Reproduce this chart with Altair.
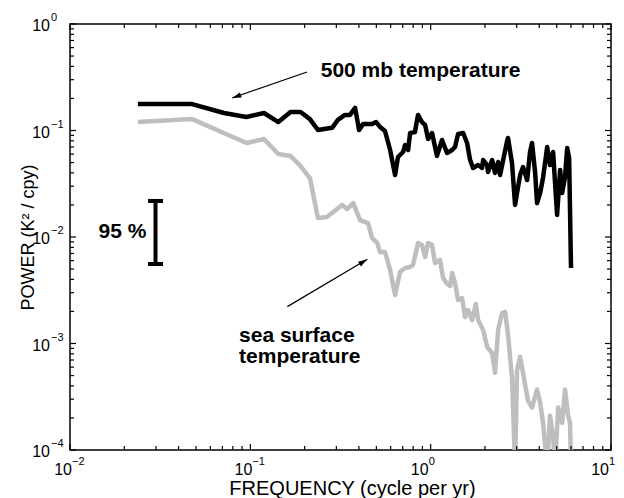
import altair as alt
import pandas as pd

# ---- data ----
freq_500mb = [0.0238, 0.0476, 0.0714, 0.0952, 0.119, 0.143, 0.167, 0.190, 0.214, 0.237,
              0.284, 0.306, 0.335, 0.357, 0.381, 0.401, 0.422, 0.473, 0.498, 0.524,
              0.558, 0.596, 0.635, 0.659, 0.703, 0.721, 0.750, 0.769, 0.818, 0.851,
              0.895, 0.931, 0.968, 1.018, 1.084, 1.156, 1.233, 1.315, 1.365, 1.419,
              1.514, 1.592, 1.655, 1.718, 1.832, 1.928, 1.954, 2.056, 2.080, 2.193,
              2.275, 2.366, 2.427, 2.523, 2.655, 2.685, 2.825, 2.938, 3.013, 3.133,
              3.251, 3.428, 3.556, 3.648, 3.793, 3.890, 4.046, 4.198, 4.426, 4.592,
              4.775, 5.023, 5.224, 5.358, 5.559, 5.715, 5.86, 6.0]
power_500mb = [0.177, 0.177, 0.146, 0.134, 0.146, 0.120, 0.149, 0.149, 0.128, 0.101,
               0.106, 0.126, 0.140, 0.140, 0.163, 0.101, 0.115, 0.115, 0.120, 0.108,
               0.099, 0.0656, 0.0382, 0.0564, 0.0628, 0.0731, 0.0656, 0.0947, 0.0968, 0.140,
               0.120, 0.113, 0.0832, 0.0947, 0.0577, 0.0814, 0.0615, 0.0656, 0.0700, 0.0927,
               0.0947, 0.0763, 0.0528, 0.0445, 0.0474, 0.0445, 0.0528, 0.0474, 0.0408, 0.0528,
               0.0399, 0.0506, 0.0382, 0.0528, 0.0796, 0.0851, 0.0495, 0.0200, 0.0259, 0.0382,
               0.0454, 0.0343, 0.0628, 0.0763, 0.0408, 0.0208, 0.0259, 0.0358, 0.0700, 0.0474,
               0.0628, 0.0161, 0.0426, 0.0259, 0.0366, 0.0685, 0.0552, 0.00512]

freq_sst = [0.0238, 0.0476, 0.0952, 0.119, 0.143, 0.167, 0.190, 0.214, 0.237, 0.266,
            0.323, 0.344, 0.372, 0.406, 0.450, 0.473, 0.505, 0.524, 0.558, 0.596,
            0.635, 0.676, 0.721, 0.769, 0.798, 0.851, 0.895, 0.931, 0.968, 1.018,
            1.057, 1.127, 1.172, 1.233, 1.282, 1.315, 1.365, 1.419, 1.493, 1.552,
            1.611, 1.698, 1.78, 1.832, 1.954, 2.056, 2.193, 2.275, 2.366, 2.489,
            2.588, 2.685, 2.825, 2.938, 3.013, 3.133, 3.251, 3.467, 3.648, 3.890,
            4.046, 4.198, 4.426, 4.592, 4.775, 4.898, 5.093, 5.358, 5.559, 5.781,
            5.93, 6.0]
power_sst = [0.120, 0.128, 0.0763, 0.0832, 0.0602, 0.0577, 0.0464, 0.0358, 0.0151, 0.0154,
             0.0200, 0.0183, 0.0208, 0.0144, 0.0135, 0.0098, 0.0088, 0.00723, 0.00723, 0.00490,
             0.00285, 0.00469, 0.00512, 0.00523, 0.00546, 0.0088, 0.0084, 0.00649, 0.0088, 0.0084,
             0.00570, 0.00608, 0.00412, 0.00363, 0.00347, 0.00459, 0.00370, 0.00256, 0.00267, 0.00177,
             0.00206, 0.00166, 0.00235, 0.00166, 0.00134, 0.00093, 0.00081, 0.00053, 0.00134, 0.00193,
             0.00198, 0.00121, 0.00048, 0.00007, 0.00056, 0.00075, 0.00053, 0.00029, 0.00025, 0.00037,
             0.00028, 0.00018, 0.00007, 0.00021, 0.000133, 0.00007, 0.00025, 0.00018, 0.00037, 0.00021,
             0.00018, 0.00007]

# 95 % confidence bar
ci_freq = [0.0298]
ci_low = [0.00558]
ci_high = [0.0218]
ci_cap_left = [0.0271]
ci_cap_right = [0.0328]

# annotations
label_500mb = ["500 mb temperature"]
label_500mb_pos = [0.2457, 0.318]
arrow1_tail = [0.2063, 0.354]
arrow1_head = [0.0792, 0.2019]
label_sst = ["sea surface", "temperature"]
label_sst_f = [0.0866, 0.0866]
label_sst_p = [0.00103, 0.000656]
arrow2_tail = [0.1604, 0.00222]
arrow2_head = [0.4455, 0.00617]
label_ci = ["95 %"]
label_ci_pos = [0.0265, 0.0111]

# axes ticks
x_major_neg = [0.01, 0.1]
x_exp_neg = ["\u22122", "\u22121"]
x_major_pos = [1, 10]
x_exp_pos = ["0", "1"]
y_major = [1e-4, 1e-3, 1e-2, 1e-1, 1]
y_exp = ["\u22124", "\u22123", "\u22122", "\u22121", "0"]
x_minor = [m * 10.0 ** e for e in (-2, -1, 0) for m in range(2, 10)]
y_minor = [m * 10.0 ** e for e in (-4, -3, -2, -1) for m in range(2, 10)]

W, H = 541, 426
FONT = "Liberation Sans"

xs = alt.Scale(type="log", domain=[0.01, 10], nice=False)
ys = alt.Scale(type="log", domain=[1e-4, 1], nice=False)
x_axis = alt.Axis(title="FREQUENCY (cycle per yr)", labels=False, ticks=False, domain=False,
                  grid=False, titleFont=FONT, titleFontSize=20, titleFontWeight="normal",
                  titleColor="black", titleX=282, titleY=44, titleBaseline="alphabetic",
                  titleAlign="center")
y_axis = alt.Axis(title="POWER (K\u00b2 / cpy)", labels=False, ticks=False, domain=False,
                  grid=False, titleFont=FONT, titleFontSize=18, titleFontWeight="normal",
                  titleColor="black", titleAngle=270, titleX=-37, titleY=213,
                  titleBaseline="alphabetic", titleAlign="center")


def X(field):
    return alt.X(f"{field}:Q", scale=xs, axis=x_axis)


def Y(field):
    return alt.Y(f"{field}:Q", scale=ys, axis=y_axis)


layers = []

sst = pd.DataFrame({"f": freq_sst, "p": power_sst})
layers.append(alt.Chart(sst).mark_line(color="#bebebe", strokeWidth=4.5, clip=True,
                                        strokeJoin="round").encode(X("f"), Y("p")))
mb = pd.DataFrame({"f": freq_500mb, "p": power_500mb})
layers.append(alt.Chart(mb).mark_line(color="black", strokeWidth=4.5, clip=True,
                                       strokeJoin="round").encode(X("f"), Y("p")))

# confidence bar
ci = pd.DataFrame({"f": ci_freq, "lo": ci_low, "hi": ci_high})
layers.append(alt.Chart(ci).mark_rule(color="black", strokeWidth=4).encode(
    X("f"), Y("lo"), y2=alt.Y2("hi:Q")))
caps = pd.DataFrame({"f1": ci_cap_left * 2, "f2": ci_cap_right * 2, "p": ci_low + ci_high})
layers.append(alt.Chart(caps).mark_rule(color="black", strokeWidth=4).encode(
    X("f1"), x2=alt.X2("f2:Q"), y=Y("p")))
layers.append(alt.Chart(pd.DataFrame({"f": [label_ci_pos[0]], "p": [label_ci_pos[1]], "t": label_ci}))
              .mark_text(font=FONT, fontSize=21, fontWeight="bold", align="right",
                         baseline="middle", color="black")
              .encode(X("f"), Y("p"), text="t:N"))

# annotations
layers.append(alt.Chart(pd.DataFrame({"f": [label_500mb_pos[0]], "p": [label_500mb_pos[1]],
                                      "t": label_500mb}))
              .mark_text(font=FONT, fontSize=21, fontWeight="bold", align="left",
                         baseline="alphabetic", color="black")
              .encode(X("f"), Y("p"), text="t:N"))
layers.append(alt.Chart(pd.DataFrame({"f": label_sst_f, "p": label_sst_p, "t": label_sst}))
              .mark_text(font=FONT, fontSize=21, fontWeight="bold", align="left",
                         baseline="alphabetic", color="black")
              .encode(X("f"), Y("p"), text="t:N"))

ARROW = "M0,0L-0.65,2.2L0.65,2.2Z"
for tail, head, ang in [(arrow1_tail, arrow1_head, 251), (arrow2_tail, arrow2_head, 59)]:
    seg = pd.DataFrame({"f1": [tail[0]], "p1": [tail[1]], "f2": [head[0]], "p2": [head[1]]})
    layers.append(alt.Chart(seg).mark_rule(color="black", strokeWidth=1.2).encode(
        X("f1"), Y("p1"), x2=alt.X2("f2:Q"), y2=alt.Y2("p2:Q")))
    layers.append(alt.Chart(seg).mark_point(shape=ARROW, size=70, angle=ang, filled=True,
                                            fill="black", strokeWidth=0, opacity=1)
                  .encode(X("f2"), Y("p2")))

# ticks (inward, all four sides)
xneg = pd.DataFrame({"v": x_major_neg, "e": x_exp_neg})
xpos = pd.DataFrame({"v": x_major_pos, "e": x_exp_pos})
xmaj = pd.DataFrame({"v": x_major_neg + x_major_pos})
xmin = pd.DataFrame({"v": x_minor})
ymaj = pd.DataFrame({"v": y_major, "e": y_exp})
ymin = pd.DataFrame({"v": y_minor})
for df, ln in [(xmaj, 6), (xmin, 4)]:
    layers.append(alt.Chart(df).mark_rule(color="black", strokeWidth=1.2).encode(
        X("v"), y=alt.value(H), y2=alt.value(H - ln)))
    layers.append(alt.Chart(df).mark_rule(color="black", strokeWidth=1.2).encode(
        X("v"), y=alt.value(0), y2=alt.value(ln)))
for df, ln in [(ymaj, 6), (ymin, 4)]:
    layers.append(alt.Chart(df).mark_rule(color="black", strokeWidth=1.2).encode(
        Y("v"), x=alt.value(0), x2=alt.value(ln)))
    layers.append(alt.Chart(df).mark_rule(color="black", strokeWidth=1.2).encode(
        Y("v"), x=alt.value(W), x2=alt.value(W - ln)))

# tick labels: "10" with superscript exponent
for df, shift in [(xneg, 2), (xpos, -2)]:
    layers.append(alt.Chart(df).mark_text(text="10", font=FONT, fontSize=16, align="right",
                                          baseline="middle", dx=shift, dy=20, color="black")
                  .encode(X("v"), y=alt.value(H)))
    layers.append(alt.Chart(df).mark_text(font=FONT, fontSize=11, align="left",
                                          baseline="middle", dx=shift, dy=12, color="black")
                  .encode(X("v"), y=alt.value(H), text="e:N"))
layers.append(alt.Chart(ymaj).mark_text(text="10", font=FONT, fontSize=16, align="right",
                                        baseline="middle", dx=-20, dy=2, color="black")
              .encode(Y("v"), x=alt.value(0)))
layers.append(alt.Chart(ymaj).mark_text(font=FONT, fontSize=11, align="left",
                                        baseline="middle", dx=-19, dy=-6, color="black")
              .encode(Y("v"), x=alt.value(0), text="e:N"))

chart = (alt.layer(*layers)
         .properties(width=W, height=H, autosize=alt.AutoSizeParams(type="none"),
                     padding={"left": 62, "top": 16, "right": 5, "bottom": 48},
                     background="white")
         .configure_view(stroke="black", strokeWidth=1.5))

chart.save("out.html", embed_options={"renderer": "svg", "actions": False})
